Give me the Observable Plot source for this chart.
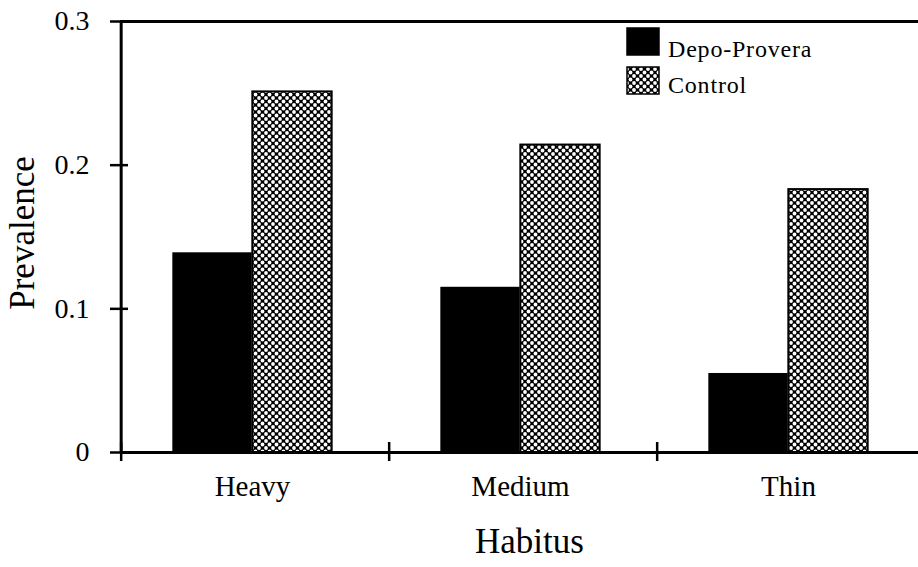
<!DOCTYPE html>
<html>
<head>
<meta charset="utf-8">
<script src="https://cdn.jsdelivr.net/npm/d3@7"></script>
<script src="https://cdn.jsdelivr.net/npm/@observablehq/plot@0.6"></script>
<style>
  body { margin: 0; background: #fff; }
  #wrap { position: relative; width: 918px; height: 567px; overflow: hidden; }
  #wrap svg, #wrap svg text { font-family: "Liberation Serif", "Times New Roman", serif !important; }
  #legend { position: absolute; left: 620px; top: 20px; }
</style>
</head>
<body>
<div id="wrap"></div>
<script>
// ---- data ----
const habitus = ["Heavy", "Medium", "Thin"];
const seriesNames = ["Depo-Provera", "Control"];
const depoValues = [0.139, 0.115, 0.055];
const controlValues = [0.251, 0.214, 0.183];
const yTicks = [0, 0.1, 0.2, 0.3];
const yLabel = "Prevalence";
const xLabel = "Habitus";

const depo = habitus.map((h, i) => ({habitus: h, value: depoValues[i]}));
const control = habitus.map((h, i) => ({habitus: h, value: controlValues[i]}));

// ---- layout ----
const W = 918, H = 567;
const xRange = [120, 926];
const bw = (xRange[1] - xRange[0]) / habitus.length;
const barW = 80, shift = -3;
const font = "Liberation Serif";

const chart = Plot.plot({
  width: W,
  height: H,
  marginLeft: 120,
  marginRight: W - xRange[1],
  marginTop: 21,
  marginBottom: 115,
  style: {fontFamily: "'Liberation Serif', serif", background: "white", color: "black", overflow: "hidden"},
  x: {type: "band", domain: habitus, range: xRange, padding: 0},
  y: {domain: [0, 0.3], range: [452, 21]},
  marks: [
    Plot.barY(depo, {x: "habitus", y: "value", fill: "black",
      insetLeft: bw / 2 - barW + shift, insetRight: bw / 2 - shift}),
    Plot.barY(control, {x: "habitus", y: "value", fill: "url(#ctrlPattern)", stroke: "black", strokeWidth: 2,
      insetLeft: bw / 2 + shift, insetRight: bw / 2 - barW - shift}),
    // frame lines
    Plot.ruleY([0, 0.3], {strokeWidth: 3}),
    Plot.ruleX([habitus[0]], {x: d => d, dx: -bw / 2, strokeWidth: 3}),
    // y ticks crossing the axis
    Plot.tickY(yTicks, {y: d => d, insetLeft: -10, insetRight: (xRange[1] - xRange[0]) - 8, strokeWidth: 2.5}),
    // x separator ticks at band edges
    Plot.ruleX(habitus, {x: d => d, dx: -bw / 2, y1: 0, y2: 0, insetTop: -10, insetBottom: -9, strokeWidth: 2.5}),
    Plot.axisY({ticks: yTicks, tickSize: 0, tickPadding: 31, fontSize: 28, fontFamily: font, label: null,
      tickFormat: d => d === 0 ? "0" : String(d)}),
    Plot.axisX({tickSize: 0, tickPadding: 23, fontSize: 29, fontFamily: font, label: null, dx: shift}),
    Plot.text([yLabel], {frameAnchor: "left", textAnchor: "middle", rotate: -90, dx: -98, dy: -4, fontSize: 35, fontFamily: font, text: d => d}),
    Plot.text([xLabel], {frameAnchor: "bottom", dx: 6, dy: 100, fontSize: 35, fontFamily: font, text: d => d})
  ]
});

// pattern definition for Control bars
const defs = d3.select(chart).insert("defs", ":first-child");
const pat = defs.append("pattern").attr("id", "ctrlPattern")
  .attr("patternUnits", "userSpaceOnUse").attr("width", 7).attr("height", 7);
pat.append("rect").attr("width", 7).attr("height", 7).attr("fill", "black");
[[0,0],[7,0],[0,7],[7,7],[3.5,3.5]].forEach(([cx, cy]) =>
  pat.append("circle").attr("cx", cx).attr("cy", cy).attr("r", 1.9).attr("fill", "white"));

const wrap = document.getElementById("wrap");
wrap.appendChild(chart);

// legend
const lg = d3.select(wrap).append("svg").attr("id", "legend")
  .attr("width", 220).attr("height", 90);
const swatchFills = ["black", "url(#ctrlPattern)"];
const swatchY = [8, 47];
const textY = [36.5, 73];
seriesNames.forEach((name, i) => {
  lg.append("rect").attr("x", 7).attr("y", swatchY[i]).attr("width", 32).attr("height", 27)
    .attr("fill", swatchFills[i]).attr("stroke", "black").attr("stroke-width", 1.5);
  lg.append("text").attr("x", 48).attr("y", textY[i]).attr("font-size", 24)
    .attr("font-family", font).attr("letter-spacing", 0.8).attr("fill", "black").text(name);
});
</script>
</body>
</html>
